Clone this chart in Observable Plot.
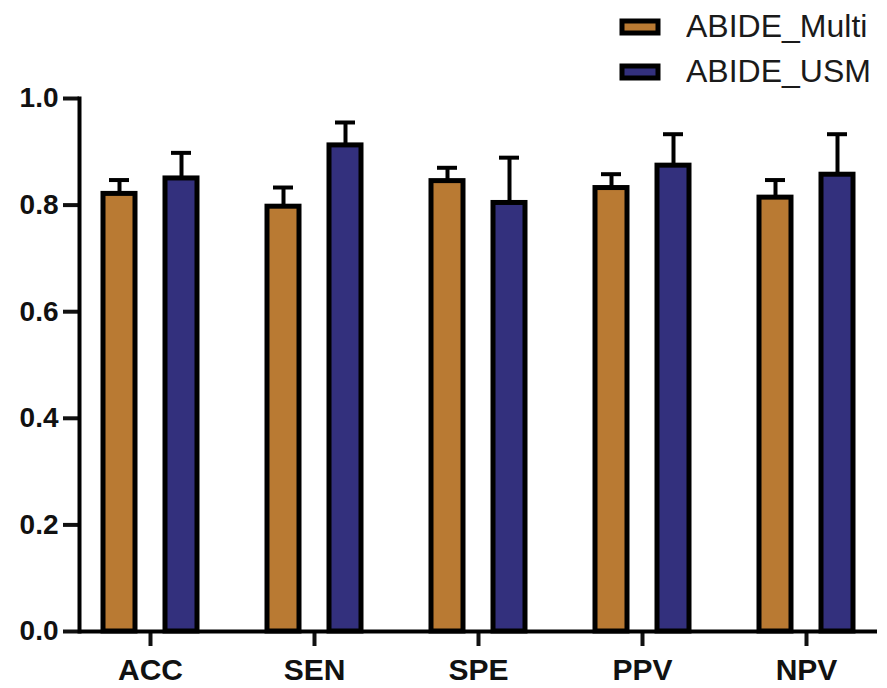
<!DOCTYPE html>
<html><head><meta charset="utf-8">
<script src="https://cdn.jsdelivr.net/npm/d3@7"></script>
<script src="https://cdn.jsdelivr.net/npm/@observablehq/plot@0.6"></script>
<style>
html,body{margin:0;padding:0;background:#fff;}
body{width:887px;height:688px;overflow:hidden;font-family:"Liberation Sans",Arial,sans-serif;}
#legend{height:80px;padding-left:622px;box-sizing:border-box;padding-top:4px;position:relative;z-index:1;}
#legend > div{font-size:32px;color:#1a1a1a;font-family:"Liberation Sans",Arial,sans-serif;margin:0;}
#legend > div > div{height:45px;display:flex;align-items:center;padding:0;}
#legend svg{overflow:visible !important;margin-right:28px !important;}
#legend svg rect{stroke:#000;stroke-width:5px;}
</style></head><body>
<div id="legend"></div><div id="chart"></div>
<script>
const categories = ["ACC", "SEN", "SPE", "PPV", "NPV"];
const series = ["ABIDE_Multi", "ABIDE_USM"];
const colors = ["#B97A33", "#33307D"];
const multiMean = [0.821, 0.797, 0.845, 0.832, 0.814];
const multiSD   = [0.026, 0.036, 0.025, 0.026, 0.033];
const usmMean   = [0.850, 0.912, 0.804, 0.874, 0.857];
const usmSD     = [0.048, 0.043, 0.085, 0.059, 0.076];
const yTicks = [0, 0.2, 0.4, 0.6, 0.8, 1.0];

const multi = categories.map((c, i) => ({cat: c, series: series[0], mean: multiMean[i], sd: multiSD[i]}));
const usm = categories.map((c, i) => ({cat: c, series: series[1], mean: usmMean[i], sd: usmSD[i]}));
const color = {domain: series, range: colors};
const upper = d => d.mean + d.sd;

const chart = Plot.plot({
  width: 887, height: 608,
  marginTop: 18, marginBottom: 57, marginLeft: 79, marginRight: 10,
  style: {background: "transparent", fontFamily: "Liberation Sans, Arial, sans-serif", overflow: "visible", color: "#111"},
  x: {domain: categories, range: [68, 888], padding: 0, axis: null},
  y: {domain: [0, 1], axis: null},
  color,
  marks: [
    Plot.ruleX(multi, {x: "cat", y1: "mean", y2: upper, dx: -31, strokeWidth: 4, stroke: "#000"}),
    Plot.tickY(multi, {x: "cat", y: upper, dx: -31, insetLeft: 72, insetRight: 72, strokeWidth: 4, stroke: "#000"}),
    Plot.ruleX(usm, {x: "cat", y1: "mean", y2: upper, dx: 31, strokeWidth: 4, stroke: "#000"}),
    Plot.tickY(usm, {x: "cat", y: upper, dx: 31, insetLeft: 72, insetRight: 72, strokeWidth: 4, stroke: "#000"}),
    Plot.barY(multi, {x: "cat", y: "mean", fill: "series", stroke: "#000", strokeWidth: 5, insetLeft: 35, insetRight: 97}),
    Plot.barY(usm, {x: "cat", y: "mean", fill: "series", stroke: "#000", strokeWidth: 5, insetLeft: 97, insetRight: 35}),
    Plot.axisY({ticks: yTicks, tickFormat: d3.format(".1f"), tickSize: 16, tickPadding: 5, strokeWidth: 4, fontSize: 28, fontWeight: "bold", label: null}),
    Plot.axisX({tickSize: 15, tickPadding: 12, strokeWidth: 4, fontSize: 30, fontWeight: "bold", label: null}),
    Plot.ruleY([0], {strokeWidth: 4, stroke: "#000"}),
    Plot.frame({anchor: "left", strokeWidth: 4, stroke: "#000"})
  ]
});
document.getElementById("chart").append(chart);
const leg = Plot.legend({color, legend: "swatches", columns: 1, swatchWidth: 36, swatchHeight: 12});
document.getElementById("legend").append(leg);
</script>
</body></html>
